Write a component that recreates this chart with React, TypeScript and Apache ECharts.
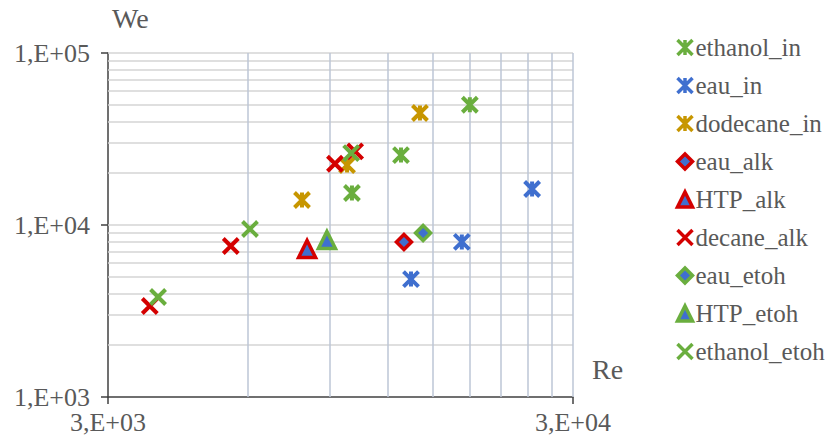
import React, { useEffect, useRef } from "react";
import * as echarts from "echarts";

const ethanolIn = [[12800, 25500], [18000, 50000], [10040, 15350]];
const eauIn = [[24500, 16200], [17300, 7970], [13450, 4850]];
const dodecaneIn = [[7840, 13970], [14060, 44800], [9800, 22300]];
const eauAlk = [[12990, 7970]];
const htpAlk = [[8040, 7250]];
const decaneAlk = [[3690, 3380], [5510, 7550], [9230, 22700], [10200, 26800]];
const eauEtoh = [[14280, 8985]];
const htpEtoh = [[8870, 8180]];
const ethanolEtoh = [[3844, 3814], [6060, 9480], [10000, 26200]];

const xTicks = [3000, 30000];
const yMinorGrid = [2000, 3000, 4000, 5000, 6000, 7000, 8000, 9000, 10000, 20000, 30000, 40000, 50000, 60000, 70000, 80000, 90000, 100000];
const xMinorGrid = [6000, 9000, 12000, 15000, 18000, 21000, 24000, 27000, 30000];

const GREEN = "#6aae3e";
const BLUE = "#3f6fcf";
const GOLD = "#c79600";
const RED = "#d40000";
const STAR = "path://M0,0L10,10M10,0L0,10M5,0L5,10";
const CROSS = "path://M0,0L10,10M10,0L0,10";
const FONT = "Liberation Serif";

function fmt(v: number) {
  const e = Math.floor(Math.log10(v) + 1e-9);
  const m = Math.round(v / Math.pow(10, e));
  return m + ",E+" + (e < 10 ? "0" : "") + e;
}

export default function App() {
  const ref = useRef<HTMLDivElement>(null);
  useEffect(() => {
    document.body.style.margin = "0";
    const chart = echarts.init(ref.current!, null, { renderer: "svg" });
    const lineSeries = (name: string, data: number[][], symbol: string, color: string, size: number) => ({
      name,
      type: "scatter",
      data,
      symbol,
      symbolSize: size,
      itemStyle: { color: "none", borderColor: color, borderWidth: 4, opacity: 1 },
    });
    const fillSeries = (name: string, data: number[][], symbol: string, border: string, size: number) => ({
      name,
      type: "scatter",
      data,
      symbol,
      symbolSize: size,
      itemStyle: { color: BLUE, borderColor: border, borderWidth: 3.5, opacity: 1 },
    });
    const series: any[] = [
      lineSeries("ethanol_in", ethanolIn, STAR, GREEN, 15),
      lineSeries("eau_in", eauIn, STAR, BLUE, 15),
      lineSeries("dodecane_in", dodecaneIn, STAR, GOLD, 15),
      fillSeries("eau_alk", eauAlk, "diamond", RED, 15),
      fillSeries("HTP_alk", htpAlk, "triangle", RED, 17),
      lineSeries("decane_alk", decaneAlk, CROSS, RED, 15),
      fillSeries("eau_etoh", eauEtoh, "diamond", GREEN, 15),
      fillSeries("HTP_etoh", htpEtoh, "triangle", GREEN, 17),
      lineSeries("ethanol_etoh", ethanolEtoh, CROSS, GREEN, 15),
    ];
    series[0].markLine = {
      silent: true,
      symbol: "none",
      z: 1,
      label: { show: false },
      animation: false,
      data: [
        ...yMinorGrid.map((v) => ({ yAxis: v, lineStyle: { color: "#d4d4d4", width: 1.5, type: "solid", opacity: 1 } })),
        ...xMinorGrid.map((v) => ({ xAxis: v, lineStyle: { color: "#bcc6d6", width: 1.5, type: "solid", opacity: 1 } })),
      ],
    };
    chart.setOption({
      animation: false,
      grid: { left: 108, right: 256, top: 53, bottom: 46, containLabel: false, outerBoundsMode: "none" },
      xAxis: {
        type: "log",
        logBase: 10,
        min: 3000,
        max: 30000,
        axisLine: { show: true, onZero: false, lineStyle: { color: "#404040", width: 1.5 } },
        axisTick: { show: true, customValues: xTicks, length: 7, lineStyle: { color: "#404040", width: 1.5 } },
        axisLabel: {
          customValues: xTicks,
          formatter: (v: number) => fmt(v),
          color: "#595959",
          fontFamily: FONT,
          fontSize: 26,
          margin: 12,
        },
        splitLine: { show: false },
      },
      yAxis: {
        type: "log",
        logBase: 10,
        min: 1000,
        max: 100000,
        axisLine: { show: true, onZero: false, lineStyle: { color: "#404040", width: 1.5 } },
        axisTick: { show: true, length: 7, lineStyle: { color: "#404040", width: 1.5 } },
        axisLabel: {
          formatter: (v: number) => fmt(v),
          color: "#595959",
          fontFamily: FONT,
          fontSize: 26,
          margin: 18,
        },
        splitLine: { show: false },
      },
      legend: {
        orient: "vertical",
        left: 670,
        top: 30,
        itemWidth: 15,
        itemHeight: 15,
        itemGap: 13,
        itemStyle: { borderWidth: 3.5 },
        textStyle: { color: "#595959", fontFamily: FONT, fontSize: 25, lineHeight: 24, padding: [0, 0, 0, -2] },
        data: series.map((s) => s.name),
      },
      graphic: [
        { type: "text", left: 112, top: 4, style: { text: "We", fill: "#595959", font: `28px "${FONT}"` } },
        { type: "text", left: 592, top: 355, style: { text: "Re", fill: "#595959", font: `28px "${FONT}"` } },
      ],
      series,
    });
    return () => chart.dispose();
  }, []);
  return <div ref={ref} style={{ width: 829, height: 443 }} />;
}
